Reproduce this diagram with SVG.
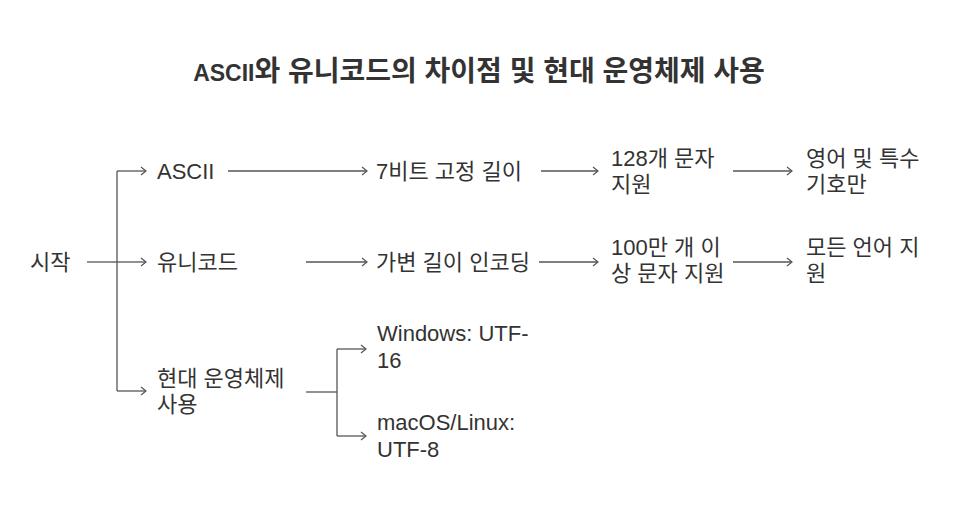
<svg xmlns="http://www.w3.org/2000/svg" width="961" height="516" viewBox="0 0 961 516">
<defs>
<style>
.t{font-family:"Liberation Sans","Noto Sans CJK KR",sans-serif;font-size:22px;fill:#333}
.title{font-family:"Liberation Sans","Noto Sans CJK KR",sans-serif;font-size:28px;font-weight:bold;fill:#333}
.c{fill:none;stroke:#555;stroke-width:1.3}
</style>
<marker id="ah" markerWidth="8" markerHeight="10" refX="6" refY="5" orient="auto" markerUnits="userSpaceOnUse">
<path d="M1,1 L6,5 L1,9" fill="none" stroke="#555" stroke-width="1.2"/>
</marker>
</defs>
<rect width="961" height="516" fill="#fff"/>
<text class="title" x="479" y="81" text-anchor="middle"><tspan font-size="23">ASCII</tspan>와 유니코드의 차이점 및 현대 운영체제 사용</text>
<g id="connectors">
<path class="c" d="M87,262 H117"/>
<path class="c" d="M117,171 V391"/>
<path class="c" d="M117,171 H146" marker-end="url(#ah)"/>
<path class="c" d="M117,262 H146" marker-end="url(#ah)"/>
<path class="c" d="M117,391 H146" marker-end="url(#ah)"/>
<path class="c" d="M228,171 H367" marker-end="url(#ah)"/>
<path class="c" d="M306,262 H367" marker-end="url(#ah)"/>
<path class="c" d="M541,171 H598" marker-end="url(#ah)"/>
<path class="c" d="M539,262 H598" marker-end="url(#ah)"/>
<path class="c" d="M733,171 H792" marker-end="url(#ah)"/>
<path class="c" d="M733,262 H792" marker-end="url(#ah)"/>
<path class="c" d="M306,392 H337"/>
<path class="c" d="M337,349 V436"/>
<path class="c" d="M337,349 H366" marker-end="url(#ah)"/>
<path class="c" d="M337,436 H366" marker-end="url(#ah)"/>
</g>
<g id="start"><text class="t" x="30" y="270">시작</text></g>
<g id="ascii"><text class="t" x="157" y="179">ASCII</text></g>
<g id="unicode"><text class="t" x="157" y="270">유니코드</text></g>
<g id="modern-os"><text class="t" x="157" y="386">현대 운영체제</text><text class="t" x="157" y="412">사용</text></g>
<g id="fixed7"><text class="t" x="376" y="179">7비트 고정 길이</text></g>
<g id="variable"><text class="t" x="376" y="270">가변 길이 인코딩</text></g>
<g id="chars128"><text class="t" x="611" y="166">128개 문자</text><text class="t" x="611" y="192">지원</text></g>
<g id="chars1m"><text class="t" x="611" y="255">100만 개 이</text><text class="t" x="611" y="281">상 문자 지원</text></g>
<g id="english"><text class="t" x="806" y="166">영어 및 특수</text><text class="t" x="806" y="192">기호만</text></g>
<g id="alllang"><text class="t" x="806" y="255">모든 언어 지</text><text class="t" x="806" y="281">원</text></g>
<g id="windows"><text class="t" x="377" y="341">Windows: UTF-</text><text class="t" x="377" y="368">16</text></g>
<g id="maclinux"><text class="t" x="377" y="430">macOS/Linux:</text><text class="t" x="377" y="457">UTF-8</text></g>
</svg>
